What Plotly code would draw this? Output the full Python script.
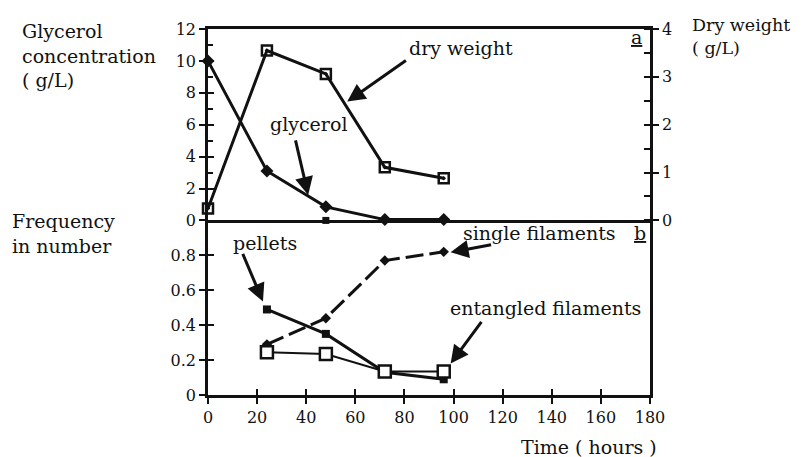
import plotly.graph_objects as go

# ---- data ----
time_h = [0, 24, 48, 72, 96]
glycerol = [10.0, 3.1, 0.85, 0.05, 0.05]          # g/L, left axis (panel a)
dry_weight = [0.25, 3.55, 3.06, 1.11, 0.88]        # g/L, right axis (panel a)

freq_time = [24, 48, 72, 96]
pellets = [0.49, 0.35, 0.13, 0.09]
single_filaments = [0.29, 0.44, 0.77, 0.82]
entangled_filaments = [0.245, 0.235, 0.135, 0.135]
stray_time = [48]
stray_value = [1.0]

x_ticks = [0, 20, 40, 60, 80, 100, 120, 140, 160, 180]
freq_ticks = [0, 0.2, 0.4, 0.6, 0.8]
freq_labels = ["0", "0.2", "0.4", "0.6", "0.8"]
glyc_ticks = [0, 2, 4, 6, 8, 10, 12]
dw_ticks = [0, 1, 2, 3, 4]

FONT = "DejaVu Serif"
BLACK = "#111111"

fig = go.Figure()

# panel a
fig.add_trace(go.Scatter(x=time_h, y=glycerol, xaxis="x2", yaxis="y2", mode="lines+markers",
                         line=dict(color=BLACK, width=3),
                         marker=dict(symbol="diamond", size=10, color=BLACK),
                         cliponaxis=False, showlegend=False))
fig.add_trace(go.Scatter(x=time_h, y=dry_weight, xaxis="x2", yaxis="y3", mode="lines+markers",
                         line=dict(color=BLACK, width=3),
                         marker=dict(symbol="square-open-dot", size=10, color=BLACK, line=dict(width=2.5, color=BLACK)),
                         cliponaxis=False, showlegend=False))

# panel b
fig.add_trace(go.Scatter(x=freq_time, y=pellets, xaxis="x", yaxis="y", mode="lines+markers",
                         line=dict(color=BLACK, width=3),
                         marker=dict(symbol="square", size=8, color=BLACK),
                         cliponaxis=False, showlegend=False))
fig.add_trace(go.Scatter(x=freq_time, y=single_filaments, xaxis="x", yaxis="y", mode="lines+markers",
                         line=dict(color=BLACK, width=3, dash="18px,6px"),
                         marker=dict(symbol="diamond", size=8, color=BLACK),
                         cliponaxis=False, showlegend=False))
fig.add_trace(go.Scatter(x=freq_time, y=entangled_filaments, xaxis="x", yaxis="y", mode="lines+markers",
                         line=dict(color=BLACK, width=2),
                         marker=dict(symbol="square", size=12, color="white", line=dict(width=2.5, color=BLACK)),
                         cliponaxis=False, showlegend=False))
fig.add_trace(go.Scatter(x=stray_time, y=stray_value, xaxis="x", yaxis="y", mode="markers",
                         marker=dict(symbol="square", size=7, color=BLACK),
                         cliponaxis=False, showlegend=False))

# empty traces so that the inner-tick overlay axes get drawn
for xa, ya in [("x3", "y"), ("x", "y4"), ("x2", "y5")]:
    fig.add_trace(go.Scatter(x=[], y=[], xaxis=xa, yaxis=ya, showlegend=False, hoverinfo="skip"))

tickfont = dict(family=FONT, size=16, color=BLACK)
axis_common = dict(showgrid=False, zeroline=False, showline=True, linecolor=BLACK, linewidth=2.5,
                   tickcolor=BLACK, tickwidth=2, tickfont=tickfont)
inner = dict(showgrid=False, zeroline=False, showline=False, showticklabels=False,
             ticks="inside", ticklen=6, tickcolor=BLACK, tickwidth=2)

fig.update_layout(
    width=800, height=449,
    margin=dict(l=200, r=158, t=12, b=62),
    paper_bgcolor="white", plot_bgcolor="white",
    font=dict(family=FONT, color=BLACK),
    xaxis=dict(range=[0, 180], domain=[0, 1], anchor="y", tickvals=x_ticks,
               ticks="outside", ticklen=6, mirror=False, **axis_common),
    xaxis3=dict(range=[0, 180], overlaying="x", anchor="y", tickvals=x_ticks, **inner),
    yaxis=dict(range=[0, 1.0], domain=[0, 0.477], anchor="x", tickvals=freq_ticks,
               ticktext=freq_labels, ticks="outside", ticklen=6, mirror=True, **axis_common),
    yaxis4=dict(range=[0, 1.0], overlaying="y", anchor="x", side="left", tickvals=freq_ticks, **inner),
    xaxis2=dict(range=[0, 180], domain=[0, 1], anchor="y2", matches="x", showticklabels=False,
                ticks="", mirror=True, **axis_common),
    yaxis2=dict(range=[0, 12], domain=[0.477, 1], anchor="x2", tickvals=glyc_ticks,
                ticks="outside", ticklen=6, **axis_common),
    yaxis5=dict(range=[0, 12], overlaying="y2", anchor="x2", side="left", tickvals=glyc_ticks,
                minor=dict(dtick=1, ticks="inside", ticklen=5, tickcolor=BLACK, tickwidth=2),
                **inner),
    yaxis3=dict(range=[0, 4], overlaying="y2", side="right", anchor="x2", tickvals=dw_ticks,
                ticks="outside", ticklen=6,
                minor=dict(dtick=0.5, ticks="inside", ticklen=6, tickcolor=BLACK, tickwidth=2),
                **axis_common),
)

lab = dict(family=FONT, size=19, color=BLACK)
lab_small = dict(family=FONT, size=17.5, color=BLACK)
arrow = dict(showarrow=True, arrowhead=2, arrowsize=1.2, arrowwidth=3, arrowcolor=BLACK)
ann = []
# axis titles
ann.append(dict(text="Glycerol<br>concentration<br>( g/L)", xref="paper", yref="paper",
                x=-0.425, y=1.031, xanchor="left", yanchor="top", align="left", showarrow=False, font=lab))
ann.append(dict(text="Frequency<br>in number", xref="paper", yref="paper",
                x=-0.449, y=0.511, xanchor="left", yanchor="top", align="left", showarrow=False, font=lab))
ann.append(dict(text="Dry weight<br>( g/L)", xref="paper", yref="paper",
                x=1.09, y=1.044, xanchor="left", yanchor="top", align="left", showarrow=False, font=lab_small))
ann.append(dict(text="Time ( hours )", xref="paper", yref="paper",
                x=0.862, y=-0.141, xanchor="center", yanchor="middle", showarrow=False, font=lab))

# panel a labels
ann.append(dict(text="dry weight", xref="x2", yref="y2", x=81.2, y=10.83, xanchor="left",
                showarrow=False, font=lab))
ann.append(dict(text="", xref="x2", yref="y2", x=56.7, y=7.45, ax=81.2, ay=10.09,
                axref="x2", ayref="y2", **arrow))
ann.append(dict(text="glycerol", xref="x2", yref="y2", x=24.5, y=6.03, xanchor="left",
                showarrow=False, font=lab))
ann.append(dict(text="", xref="x2", yref="y2", x=40.8, y=1.6, ax=35.5, ay=5.11,
                axref="x2", ayref="y2", **arrow))
ann.append(dict(text="<u>a</u>", xref="x2", yref="y2", x=174.7, y=11.5, showarrow=False, font=lab))

# panel b labels
ann.append(dict(text="pellets", xref="x", yref="y", x=9.4, y=0.873, xanchor="left",
                showarrow=False, font=lab))
ann.append(dict(text="", xref="x", yref="y", x=22.4, y=0.535, ax=13.9, ay=0.817,
                axref="x", ayref="y", **arrow))
ann.append(dict(text="single filaments", xref="x", yref="y", x=103.0, y=0.93, xanchor="left",
                showarrow=False, font=lab))
ann.append(dict(text="<u>b</u>", xref="x", yref="y", x=176.0, y=0.93, showarrow=False, font=lab))
ann.append(dict(text="", xref="x", yref="y", x=98.8, y=0.817, ax=115.9, ay=0.862,
                axref="x", ayref="y", **arrow))
ann.append(dict(text="entangled filaments", xref="x", yref="y", x=97.6, y=0.496, xanchor="left",
                showarrow=False, font=lab))
ann.append(dict(text="", xref="x", yref="y", x=98.8, y=0.18, ax=111.8, ay=0.428,
                axref="x", ayref="y", **arrow))

fig.update_layout(annotations=ann)
fig.write_html("out.html")
